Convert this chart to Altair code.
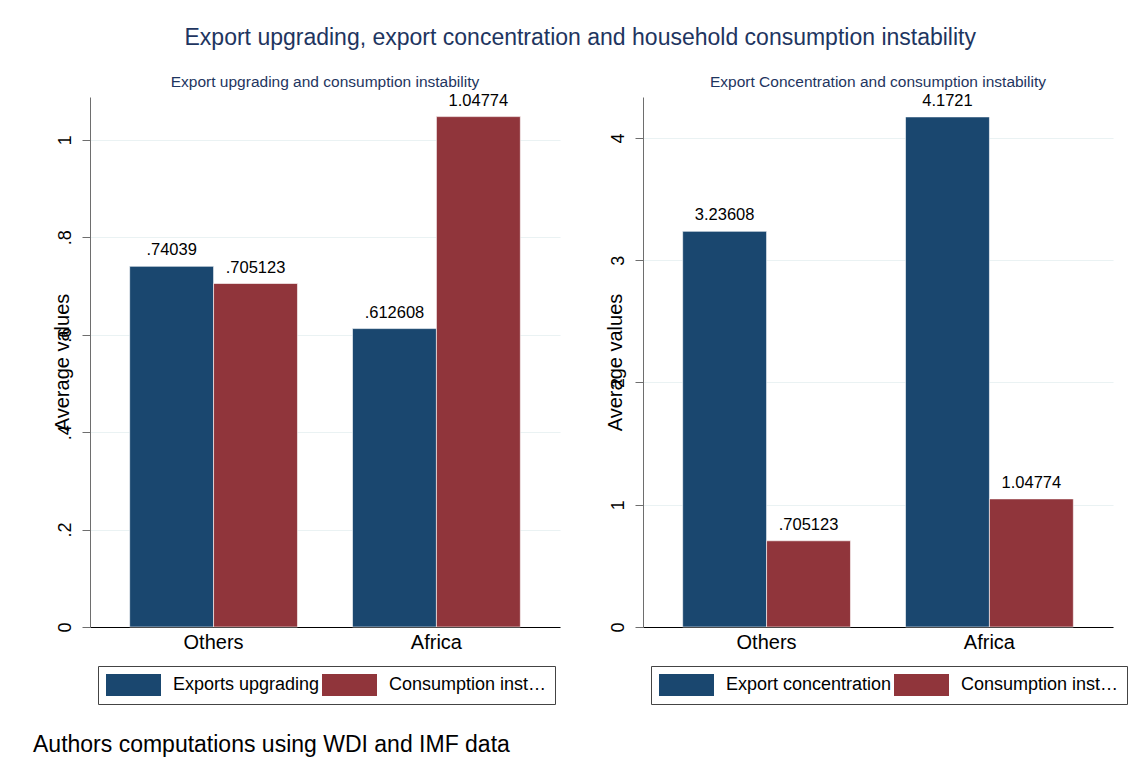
import altair as alt
import pandas as pd

# ---- data ----
groups = ["Others", "Africa"]

left_series = ["Exports upgrading", "Consumption instability"]
left_upgrading = [0.74039, 0.612608]
left_instab = [0.705123, 1.04774]
left_upgrading_lbl = [".74039", ".612608"]
left_instab_lbl = [".705123", "1.04774"]

right_series = ["Export concentration", "Consumption instability"]
right_conc = [3.23608, 4.1721]
right_instab = [0.705123, 1.04774]
right_conc_lbl = ["3.23608", "4.1721"]
right_instab_lbl = [".705123", "1.04774"]

left_ticks = [0, 0.2, 0.4, 0.6, 0.8, 1.0]
right_ticks = [0, 1, 2, 3, 4]

MAIN_TITLE = "Export upgrading, export concentration and household consumption instability"
LEFT_TITLE = "Export upgrading and consumption instability"
RIGHT_TITLE = "Export Concentration and consumption instability"
Y_TITLE = "Average values"
FOOTER = "Authors computations using WDI and IMF data"

BLUE = "#1a476f"
RED = "#90353b"
NAVY = "#1e3560"
FONT = "Liberation Sans"
W, H = 470, 530

LEFT_LABELS = ("datum.value == 0 ? '0' : datum.value == 1 ? '1' : "
               "replace(format(datum.value, '.1f'), '0.', '.')")
RIGHT_LABELS = "format(datum.value, 'd')"


def make_df(series, a, b, la, lb):
    rows = []
    for i, g in enumerate(groups):
        rows.append({"group": g, "series": series[0], "value": a[i], "lbl": la[i]})
        rows.append({"group": g, "series": series[1], "value": b[i], "lbl": lb[i]})
    return pd.DataFrame(rows)


def panel(df, series, ymax, ticks, title, label_expr, label_limit):
    x = alt.X("group:N", sort=groups, title=None,
              scale=alt.Scale(paddingInner=0.247, paddingOuter=0.178),
              axis=alt.Axis(labelAngle=0, labelFontSize=20, labelColor="black",
                            labelFont=FONT, ticks=False, domainColor="black",
                            domainWidth=1, labelPadding=5, grid=False))
    y = alt.Y("value:Q", title=Y_TITLE,
              scale=alt.Scale(domain=[0, ymax], nice=False, zero=True),
              axis=alt.Axis(values=ticks, labelExpr=label_expr, labelAngle=-90,
                            labelAlign="center", labelBaseline="bottom",
                            labelFontSize=18, labelColor="black", labelFont=FONT,
                            labelPadding=8, tickSize=8, tickColor="#6e6e6e",
                            domainColor="#6e6e6e", grid=True, gridColor="#eaf2f3",
                            gridWidth=1.2, titleFontSize=20, titleFont=FONT,
                            titleFontWeight="normal", titleColor="black",
                            titleAngle=-90, titleAlign="center", titleBaseline="middle",
                            titleX=-28, titleY=H / 2))
    xo = alt.XOffset("series:N", sort=series)
    color = alt.Color("series:N", sort=series,
                      scale=alt.Scale(domain=series, range=[BLUE, RED]),
                      legend=alt.Legend(title=None, orient="none", direction="horizontal",
                                        columns=2, columnPadding=2,
                                        legendX=8, legendY=569,
                                        symbolType="M-1,-1H4V1H-1Z",
                                        symbolSize=484, symbolStrokeWidth=0,
                                        symbolOpacity=1, labelFontSize=18,
                                        labelFont=FONT, labelColor="black",
                                        labelOffset=45, labelLimit=label_limit,
                                        fillColor="white", strokeColor="#444",
                                        padding=8))
    base = alt.Chart(df)
    bars = base.mark_bar(stroke="white", strokeWidth=0.6).encode(
        x=x, xOffset=xo, y=y, color=color)
    text = base.mark_text(baseline="bottom", dy=-8, fontSize=16.5, font=FONT,
                          color="black").encode(
        x=alt.X("group:N", sort=groups), xOffset=xo, y="value:Q", text="lbl:N")
    return alt.layer(bars, text).properties(
        width=W, height=H,
        title=alt.TitleParams(title, fontSize=15.5, font=FONT, fontWeight="normal",
                              color=NAVY, anchor="middle", offset=2))


left_df = make_df(left_series, left_upgrading, left_instab, left_upgrading_lbl, left_instab_lbl)
right_df = make_df(right_series, right_conc, right_instab, right_conc_lbl, right_instab_lbl)

left = panel(left_df, left_series, 1.088, left_ticks, LEFT_TITLE, LEFT_LABELS, 166)
footer = alt.Chart(pd.DataFrame({"t": [FOOTER]})).mark_text(
    align="left", baseline="middle", fontSize=23, font=FONT, color="black").encode(
    x=alt.value(-57), y=alt.value(648), text="t:N")
left = alt.layer(left, footer)

right = panel(right_df, right_series, 4.335, right_ticks, RIGHT_TITLE, RIGHT_LABELS, 166)

chart = alt.hconcat(left, right, spacing=83, bounds="flush").resolve_scale(
    color="independent", y="independent", x="independent", xOffset="independent"
).properties(
    title=alt.TitleParams(MAIN_TITLE, fontSize=23, font=FONT, fontWeight="normal",
                          color=NAVY, anchor="middle", offset=25),
    padding={"left": 25, "top": 19, "right": 0, "bottom": 0},
    background="white",
).configure_view(stroke=None)

chart.save("out.html", embed_options={"renderer": "svg", "actions": False})
